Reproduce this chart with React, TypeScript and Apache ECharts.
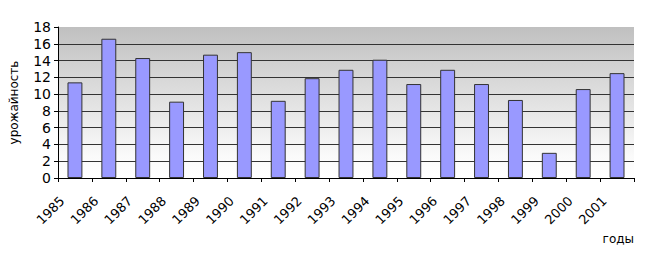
import React, { useEffect, useRef } from "react";
import * as echarts from "echarts";

const years = ["1985","1986","1987","1988","1989","1990","1991","1992","1993","1994","1995","1996","1997","1998","1999","2000","2001"];
const yields = [11.4, 16.6, 14.3, 9.1, 14.7, 15.0, 9.2, 11.9, 12.9, 14.1, 11.2, 12.9, 11.2, 9.3, 3.0, 10.6, 12.5];
const yName = "урожайность";
const xName = "годы";

export default function App() {
  const ref = useRef<HTMLDivElement>(null);
  useEffect(() => {
    document.body.style.margin = "0";
    const chart = echarts.init(ref.current!, null, { renderer: "svg" });
    const font = "DejaVu Sans";
    const splitColors = ["#333", "#333", "#333", "#333", "#333", "#333", "#333", "#333", "#333", "rgba(0,0,0,0)"];
    chart.setOption({
      animation: false,
      grid: {
        left: 56,
        right: 14,
        top: 27,
        bottom: 76,
        show: true,
        borderWidth: 0,
        backgroundColor: new echarts.graphic.LinearGradient(0, 0, 0, 1, [
          { offset: 0, color: "#c0c0c0" },
          { offset: 0.85, color: "#fafafa" },
          { offset: 1, color: "#ffffff" },
        ]),
      },
      xAxis: {
        type: "category",
        data: years,
        boundaryGap: true,
        axisLine: { show: true, lineStyle: { color: "#000", width: 1 } },
        axisTick: { show: true, length: 4, alignWithLabel: false, lineStyle: { color: "#000" } },
        axisLabel: {
          show: true,
          interval: 0,
          rotate: 45,
          margin: 8,
          padding: [0, 18, 0, 0],
          fontFamily: font,
          fontSize: 13,
          color: "#000",
        },
        splitLine: { show: false },
      },
      yAxis: {
        type: "value",
        min: 0,
        max: 18,
        interval: 2,
        name: yName,
        nameLocation: "middle",
        nameGap: 38,
        nameTextStyle: { fontFamily: font, fontSize: 12, color: "#000" },
        axisLine: { show: true, lineStyle: { color: "#000", width: 1 } },
        axisTick: { show: true, length: 4, lineStyle: { color: "#000" } },
        axisLabel: { fontFamily: font, fontSize: 14, color: "#000", margin: 7 },
        splitLine: { show: true, lineStyle: { color: splitColors, width: 1 } },
      },
      series: [
        {
          type: "bar",
          data: yields,
          barWidth: "44%",
          itemStyle: { color: "#9999ff", borderColor: "#333", borderWidth: 1 },
        },
      ],
      graphic: [
        {
          type: "text",
          right: 14,
          top: 233,
          style: { text: xName, font: "12px 'DejaVu Sans'", fill: "#000" },
        },
      ],
    });
    return () => chart.dispose();
  }, []);
  return <div ref={ref} style={{ position: "absolute", left: 0, top: 0, width: 648, height: 254 }} />;
}
